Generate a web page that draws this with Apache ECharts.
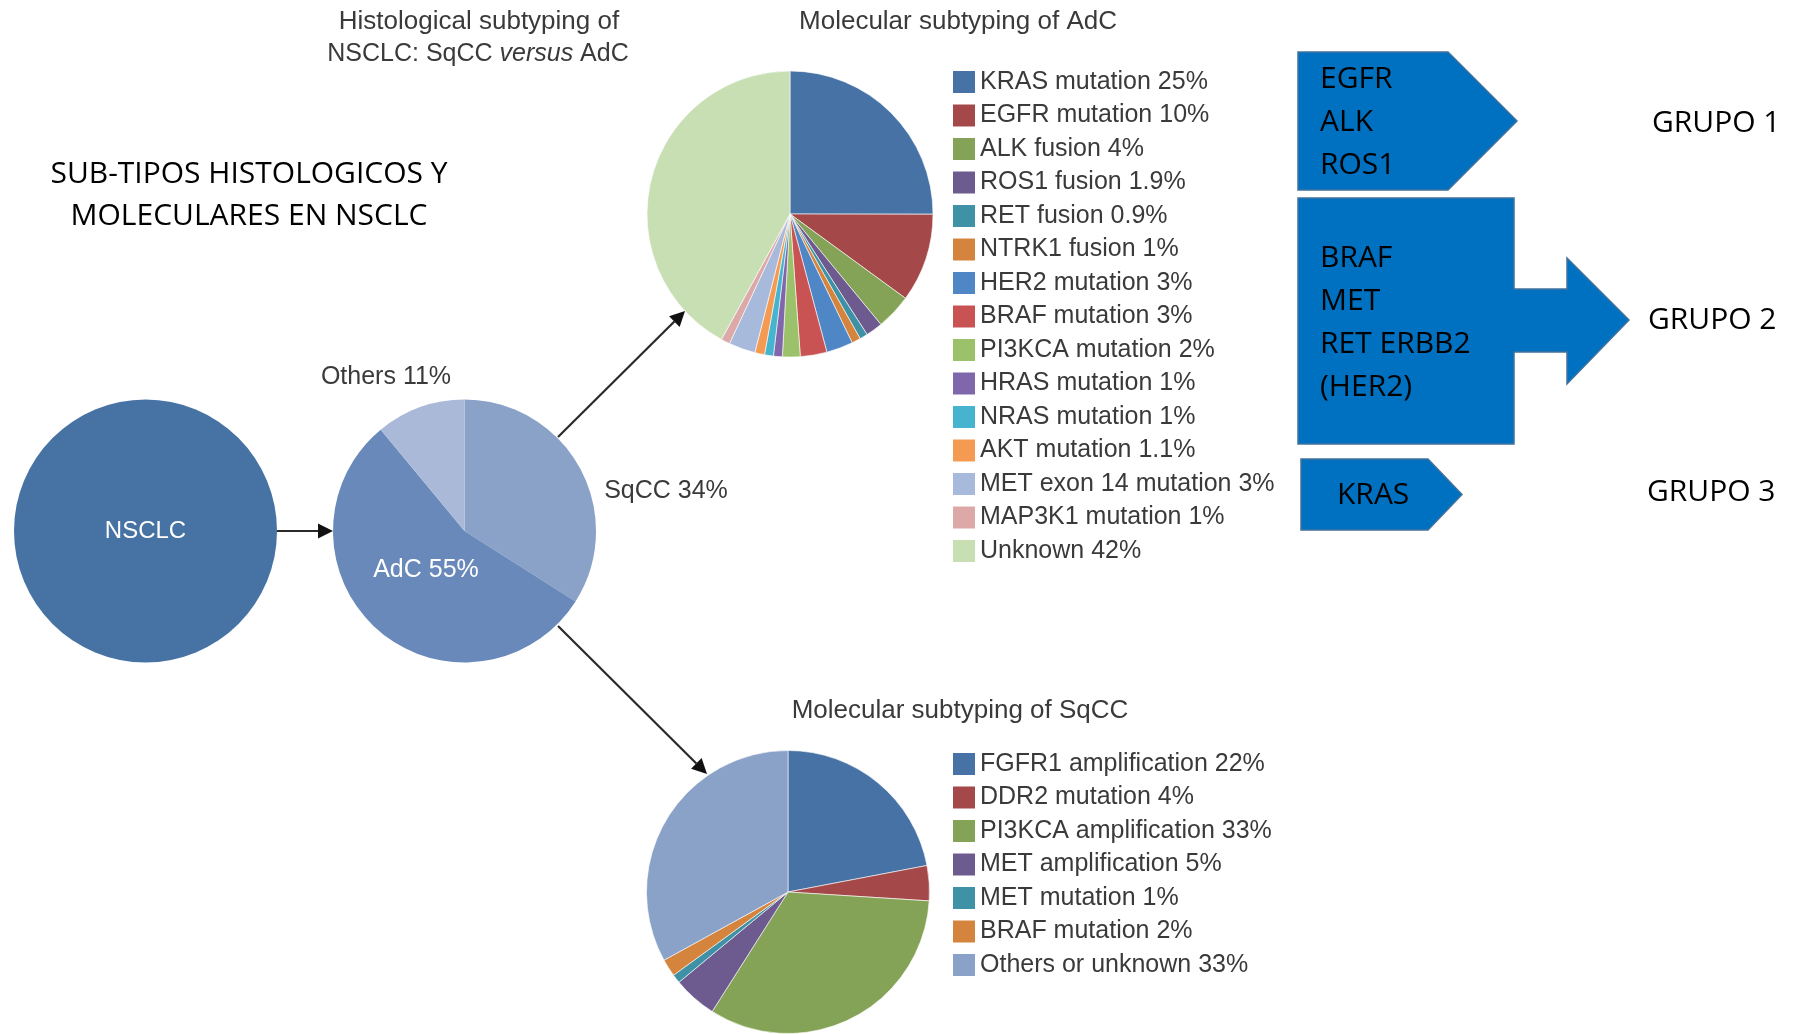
<!DOCTYPE html>
<html>
<head>
<meta charset="utf-8">
<script src="https://cdn.jsdelivr.net/npm/echarts@6/dist/echarts.min.js"></script>
<style>
  html, body { margin: 0; padding: 0; background: #fff; }
  #chart { width: 1794px; height: 1034px; }
</style>
</head>
<body>
<div id="chart"></div>
<script>
// ---- data ----
const rootName = 'NSCLC';

// Histological split of NSCLC (%)
const histNames = ['SqCC', 'AdC', 'Others'];
const histValues = [34, 55, 11];

// Molecular subtypes of adenocarcinoma (%)
const adcNames = ['KRAS mutation', 'EGFR mutation', 'ALK fusion', 'ROS1 fusion', 'RET fusion',
  'NTRK1 fusion', 'HER2 mutation', 'BRAF mutation', 'PI3KCA mutation', 'HRAS mutation',
  'NRAS mutation', 'AKT mutation', 'MET exon 14 mutation', 'MAP3K1 mutation', 'Unknown'];
const adcValues = [25, 10, 4, 1.9, 0.9, 1, 3, 3, 2, 1, 1, 1.1, 3, 1, 42];

// Molecular subtypes of squamous cell carcinoma (%)
const sqccNames = ['FGFR1 amplification', 'DDR2 mutation', 'PI3KCA amplification',
  'MET amplification', 'MET mutation', 'BRAF mutation', 'Others or unknown'];
const sqccValues = [22, 4, 33, 5, 1, 2, 33];

// Therapeutic groups
const groupLabels = ['GRUPO 1', 'GRUPO 2', 'GRUPO 3'];
const groupGenes = [['EGFR', 'ALK', 'ROS1'], ['BRAF', 'MET', 'RET ERBB2', '(HER2)'], ['KRAS']];

// Titles
const mainTitle = ['SUB-TIPOS HISTOLOGICOS Y', 'MOLECULARES EN NSCLC'];
const histTitle = 'Histological subtyping of';
const adcTitle = 'Molecular subtyping of AdC';
const sqccTitle = 'Molecular subtyping of SqCC';

// ---- styling ----
const rootColor = '#4673A3';
const histColors = ['#8AA1C8', '#6889B9', '#ABB9D9'];
const adcColors = ['#4672A6', '#A4484A', '#85A356', '#6D5A8E', '#3F92A6', '#D5843E', '#4F86C6',
  '#C95352', '#9BC26A', '#8066AA', '#46B4CE', '#F59A52', '#A8BADB', '#DCA8A8', '#C8DFB4'];
const sqccColors = ['#4672A6', '#A4484A', '#85A356', '#6D5A8E', '#3F92A6', '#D5843E', '#8AA1C8'];

const din = '"Liberation Sans", Arial, sans-serif';
const office = '"Open Sans", "Noto Sans", sans-serif';
const ink = '#3a3a3a';
const boxFill = '#0070C0';
const boxStroke = '#41719C';

// label anchors for the histology pie (SqCC, AdC, Others)
const histLabelAt = [[666, 491], [426, 570], [386, 377]];

const fmtPct = v => v + '%';

function pieData(names, values, colors) {
  return names.map((n, i) => ({ name: n, value: values[i], itemStyle: { color: colors[i] } }));
}

function legendFor(names, values, colors, top) {
  return {
    orient: 'vertical',
    left: 953,
    top: top,
    padding: 0,
    icon: 'rect',
    itemWidth: 22,
    itemHeight: 22,
    itemGap: 8.5,
    selectedMode: false,
    data: names.map((n, i) => ({ name: n, itemStyle: { color: colors[i], borderWidth: 0 } })),
    formatter: n => n + ' ' + fmtPct(values[names.indexOf(n)]),
    textStyle: { fontFamily: din, fontSize: 25, color: ink }
  };
}

function arrow(x1, y1, x2, y2) {
  const a = Math.atan2(y2 - y1, x2 - x1);
  const L = 15, W = 7.5;
  const bx = x2 - L * Math.cos(a), by = y2 - L * Math.sin(a);
  const px = -Math.sin(a) * W, py = Math.cos(a) * W;
  return [
    { type: 'line', silent: true, shape: { x1: x1, y1: y1, x2: bx, y2: by },
      style: { stroke: '#2a2a2a', lineWidth: 2.2 } },
    { type: 'polygon', silent: true, shape: { points: [[x2, y2], [bx + px, by + py], [bx - px, by - py]] },
      style: { fill: '#111' } }
  ];
}

function text(x, y, str, font, size, color, align, extra) {
  return {
    type: 'text', x: x, y: y, silent: true,
    style: Object.assign({ text: str, fontFamily: font, fontSize: size, fill: color,
      align: align || 'center', verticalAlign: 'middle' }, extra || {})
  };
}

const graphic = [];
// headline
graphic.push(text(249, 174, mainTitle[0], office, 30, '#000'));
graphic.push(text(249, 216, mainTitle[1], office, 30, '#000'));
// chart titles
graphic.push(text(479, 22, histTitle, din, 26, ink));
graphic.push({
  type: 'text', x: 478, y: 54, silent: true,
  style: {
    text: '{n|NSCLC: SqCC }{i|versus}{n| AdC}',
    align: 'center', verticalAlign: 'middle',
    rich: {
      n: { fontFamily: din, fontSize: 25, fill: ink, color: ink },
      i: { fontFamily: din, fontSize: 25, fontStyle: 'italic', fill: ink, color: ink }
    }
  }
});
graphic.push(text(958, 22, adcTitle, din, 26, ink));
graphic.push(text(960, 711, sqccTitle, din, 26, ink));

// flow arrows
graphic.push(...arrow(277, 531, 333, 531));
graphic.push(...arrow(558, 437, 685, 311));
graphic.push(...arrow(558, 626, 707, 774));

// group boxes
const boxShapes = [
  [[1298, 52], [1448, 52], [1517, 121], [1448, 190], [1298, 190]],
  [[1298, 198], [1514, 198], [1514, 289], [1567, 289], [1567, 258], [1629, 320], [1567, 384],
   [1567, 352], [1514, 352], [1514, 444], [1298, 444]],
  [[1301, 459], [1428, 459], [1462, 494.5], [1428, 530], [1301, 530]]
];
boxShapes.forEach(pts => graphic.push({
  type: 'polygon', silent: true, shape: { points: pts },
  style: { fill: boxFill, stroke: boxStroke, lineWidth: 1.5 }
}));
const geneAnchor = [[1320, 122.5], [1320, 323], [1337, 495]];
groupGenes.forEach((g, i) => graphic.push(text(geneAnchor[i][0], geneAnchor[i][1], g.join('\n'),
  office, 30, '#000', 'left', { lineHeight: 43 })));
const groupAnchor = [[1652, 123], [1648, 320], [1647, 492]];
groupLabels.forEach((g, i) => graphic.push(text(groupAnchor[i][0], groupAnchor[i][1], g,
  office, 30, '#000', 'left')));

const chart = echarts.init(document.getElementById('chart'), null, { renderer: 'canvas' });
chart.setOption({
  animation: false,
  backgroundColor: '#fff',
  legend: [
    legendFor(adcNames, adcValues, adcColors, 69.5),
    legendFor(sqccNames, sqccValues, sqccColors, 751.5)
  ],
  series: [
    {
      type: 'pie', name: rootName, center: [145.5, 531], radius: 131.5, silent: true,
      data: [{ name: rootName, value: 100, itemStyle: { color: rootColor } }],
      label: { show: true, position: 'center', formatter: '{b}', fontFamily: din, fontSize: 24, color: '#fff' },
      labelLine: { show: false }
    },
    {
      type: 'pie', name: 'Histology', center: [464.5, 531], radius: 131.5, startAngle: 90, clockwise: true,
      silent: true, avoidLabelOverlap: false,
      data: pieData(histNames, histValues, histColors).map((d, i) => i === 1
        ? Object.assign(d, { label: { position: 'inside', color: '#fff' } }) : d),
      label: { show: true, position: 'outside', formatter: p => p.name + ' ' + fmtPct(p.value),
        fontFamily: din, fontSize: 25, color: ink },
      labelLine: { show: false },
      labelLayout: p => ({ x: histLabelAt[p.dataIndex][0], y: histLabelAt[p.dataIndex][1],
        align: 'center', verticalAlign: 'middle' })
    },
    {
      type: 'pie', name: 'AdC', center: [790, 214], radius: 143, startAngle: 90, clockwise: true,
      silent: true, label: { show: false }, labelLine: { show: false },
      itemStyle: { borderColor: '#fff', borderWidth: 0.6 },
      data: pieData(adcNames, adcValues, adcColors)
    },
    {
      type: 'pie', name: 'SqCC', center: [788, 892], radius: 141.5, startAngle: 90, clockwise: true,
      silent: true, label: { show: false }, labelLine: { show: false },
      itemStyle: { borderColor: '#fff', borderWidth: 0.6 },
      data: pieData(sqccNames, sqccValues, sqccColors)
    }
  ],
  graphic: graphic
});
</script>
</body>
</html>
